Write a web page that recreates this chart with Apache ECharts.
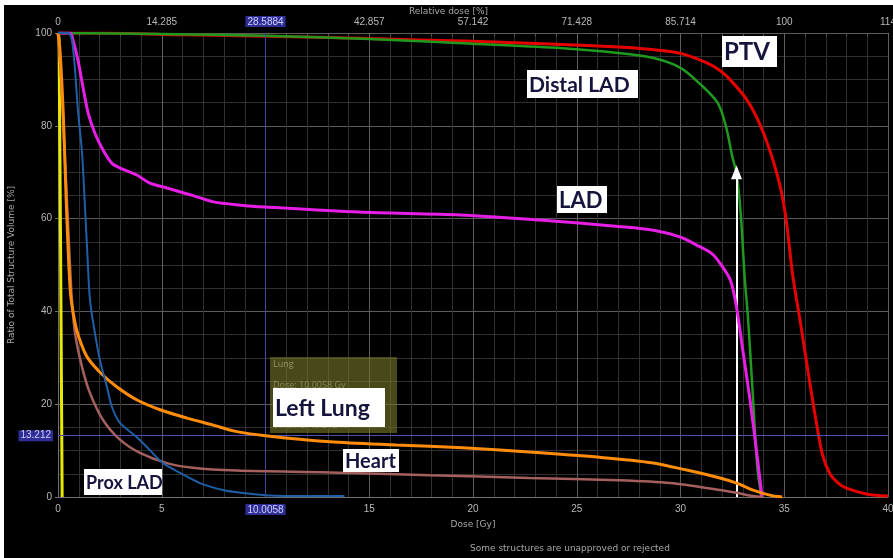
<!DOCTYPE html>
<html>
<head>
<meta charset="utf-8">
<script src="https://cdn.jsdelivr.net/npm/echarts@6/dist/echarts.min.js"></script>
<style>
  html, body { margin: 0; padding: 0; background: #ffffff; }
  #chart { position: absolute; left: 4px; top: 5px; width: 889px; height: 553px; background: #000; }
</style>
</head>
<body>
<div id="chart"></div>
<script>
// ---- Data (Dose [Gy], Volume [%]) ----
const ptv = [[0,100],[2,100],[5,99.7],[10,99.3],[15,98.8],[20,98.2],[24,97.6],[27,97],[28.5,96.5],[30,95.6],[31.3,93.5],[31.9,91.9],[32.4,89.9],[33.2,85.6],[33.8,80.6],[34.3,74.8],[34.8,67],[35.1,59.5],[35.4,48],[35.8,37],[36.2,25.5],[36.55,16],[36.85,9],[37.2,5],[37.6,3],[38,1.9],[39,0.6],[40,0.2]];
const distalLad = [[0,100],[5,99.8],[10,99.4],[15,98.7],[20,97.7],[24,96.8],[27,95.7],[28.7,94.6],[30,92.5],[30.9,89.2],[31.8,84.9],[32.2,79.7],[32.5,73.3],[32.7,69.8],[32.9,61.2],[33.1,46.8],[33.25,38.8],[33.5,20.9],[33.7,6.5],[33.9,0]];
const lad = [[0,100],[0.58,100],[0.72,98.5],[0.96,94.2],[1.2,88.4],[1.45,82.8],[1.78,78.4],[2.17,74.8],[2.6,71.9],[3,70.9],[3.8,69.4],[4.4,67.7],[5.25,66.6],[6.4,65.1],[7.5,63.6],[8.8,62.9],[10,62.5],[14.5,61.4],[19.4,60.8],[23.2,59.7],[27,58.3],[28.7,57.5],[30,56],[30.9,54],[31.5,52.5],[31.9,50.4],[32.4,46.8],[32.7,40.9],[33,31.7],[33.35,20.9],[33.7,8.6],[33.93,0]];
const proxLad = [[0,100],[0.48,100],[0.67,98.5],[0.82,92],[0.96,83.4],[1.16,74.1],[1.3,62.5],[1.42,52],[1.54,42.5],[1.78,35.3],[2.02,29.5],[2.36,23.7],[2.6,19.4],[3,15.9],[3.8,12.9],[4.43,10.1],[5.06,7.3],[5.88,5.2],[6.84,3],[7.95,1.5],[8.8,0.9],[10,0.4],[12,0.2],[13.8,0.2]];
const leftLung = [[0,100],[0.1,96],[0.25,83],[0.35,70],[0.43,59.7],[0.6,44],[0.8,38],[1.0,34.5],[1.4,30.2],[2.02,26.9],[2.84,23.7],[3.81,20.9],[4.92,18.8],[6.22,17],[7.47,15.5],[8.5,14.2],[10,13.2],[13.1,11.9],[16.3,11.2],[19.5,10.6],[22.7,9.7],[26,8.6],[28.6,7.4],[30.3,5.8],[31.9,4.1],[32.7,3],[33.5,1.5],[34.3,0.4],[34.9,0]];
const heart = [[0,100],[0.15,90],[0.3,76],[0.45,62],[0.58,50],[0.67,42.5],[0.82,35.3],[1.16,28],[1.54,22.4],[2.17,16.6],[3,12.3],[3.95,9.5],[5.25,7.3],[6.5,6.3],[8.6,5.7],[13.1,5.3],[17.9,4.7],[22.7,4.1],[27,3.6],[29.5,3],[31.9,1.5],[32.7,0.9],[33.5,0.2],[34,0]];
const yellowStruct = [[0,100],[0.05,99],[0.2,0]];

const topTickLabels = ['0','14.285','28.5884','42.857','57.142','71.428','85.714','100','114'];
const cursorDose = 10.0058;
const cursorVolume = 13.212;
const arrowDose = 32.7;
const arrowTop = 70;

// ---- Chart ----
const chart = echarts.init(document.getElementById('chart'));
const labelColor = '#b8b8b8';
const hlRich = { hl: { backgroundColor: '#2e2e96', color: '#d0d0ff', padding: [1, 2, 0, 2], fontSize: 10 } };

function line(name, data, color, width, z) {
  return { name, type: 'line', data, showSymbol: false, smooth: 0.3, z: z,
    lineStyle: { color, width }, itemStyle: { color }, silent: true, animation: false };
}

const annotations = [
  { text: 'PTV',       x: 718, y: 31,  w: 55,  h: 31, size: 24 },
  { text: 'Distal LAD',x: 523, y: 65,  w: 111, h: 28, size: 21 },
  { text: 'LAD',       x: 553, y: 181, w: 50,  h: 27, size: 22 },
  { text: 'Left Lung', x: 269, y: 383, w: 112, h: 39, size: 23 },
  { text: 'Heart',     x: 339, y: 444, w: 56,  h: 23, size: 20 },
  { text: 'Prox LAD',  x: 80,  y: 464, w: 78,  h: 26, size: 18 }
];

const graphics = [
  { type: 'text', left: 'center', top: 2, style: { text: 'Relative dose [%]', fill: '#a8a8a8', font: '9px "DejaVu Sans"' }, z: 60 },
  { type: 'rect', left: 266, top: 352, shape: { width: 127, height: 76 }, style: { fill: 'rgba(120,120,40,0.6)' }, z: 50 },
  { type: 'text', left: 269, top: 355, style: { text: 'Lung', fill: 'rgba(210,210,170,0.55)', font: '9px "Open Sans"' }, z: 51 },
  { type: 'text', left: 269, top: 376, style: { text: 'Dose: 10.0058 Gy', fill: 'rgba(210,210,170,0.45)', font: '9px "Open Sans"' }, z: 51 },
  { type: 'text', left: 269, top: 416, style: { text: 'Volume: 13.212 %', fill: 'rgba(210,210,170,0.45)', font: '9px "Open Sans"' }, z: 51 },
  { type: 'text', left: 466, top: 539, style: { text: 'Some structures are unapproved or rejected', fill: '#a8a8a8', font: '9px "DejaVu Sans"', textAlign: 'center' }, z: 60 }
];
annotations.forEach(a => {
  graphics.push({ type: 'rect', shape: { x: a.x, y: a.y, width: a.w, height: a.h }, style: { fill: '#ffffff' }, z: 100 });
  graphics.push({ type: 'text', x: a.x + 2, y: a.y + a.h / 2 + 1, style: { text: a.text, fill: '#14143c', font: 'bold ' + a.size + 'px Lato', textVerticalAlign: 'middle', textAlign: 'left' }, z: 101 });
});

const option = {
  backgroundColor: '#000',
  animation: false,
  grid: { left: 54, right: 5, top: 28, bottom: 61, containLabel: false, outerBoundsMode: 'none' },
  xAxis: [
    { type: 'value', min: 0, max: 40, interval: 5, position: 'bottom',
      name: 'Dose [Gy]', nameLocation: 'middle', nameGap: 19,
      nameTextStyle: { color: '#a8a8a8', fontSize: 9, fontFamily: 'DejaVu Sans' },
      axisLine: { show: true, lineStyle: { color: '#707070' } },
      axisTick: { show: false },
      axisLabel: { color: labelColor, fontSize: 10, margin: 7, showMaxLabel: true,
        formatter: v => Math.abs(v - 10) < 1e-6 ? '{hl|' + cursorDose + '}' : String(v), rich: hlRich },
      splitLine: { show: true, lineStyle: { color: '#5c5c5c', width: 1 } },
      minorTick: { show: false, splitNumber: 5 },
      minorSplitLine: { show: true, lineStyle: { color: '#303030', width: 1 } }
    },
    { type: 'value', min: 0, max: 40, interval: 5, position: 'top',
      axisLine: { show: false },
      axisTick: { show: true, inside: true, length: 5, lineStyle: { color: '#666' } },
      minorTick: { show: true, splitNumber: 5, length: 3, lineStyle: { color: '#555' } },
      axisLabel: { color: labelColor, fontSize: 10, margin: 6, showMaxLabel: true,
        formatter: v => { const i = Math.round(v / 5); const t = topTickLabels[i]; return i === 2 ? '{hl|' + t + '}' : t; }, rich: hlRich },
      splitLine: { show: false }
    }
  ],
  yAxis: {
    type: 'value', min: 0, max: 100, interval: 20,
    name: 'Ratio of Total Structure Volume [%]', nameLocation: 'middle', nameGap: 42,
    nameTextStyle: { color: '#a8a8a8', fontSize: 9, fontFamily: 'DejaVu Sans' },
    axisLine: { show: true, lineStyle: { color: '#707070' } },
    axisTick: { show: true, length: 3, lineStyle: { color: '#707070' } },
    axisLabel: { color: labelColor, fontSize: 10, margin: 6 },
    splitLine: { show: true, lineStyle: { color: '#5c5c5c', width: 1 } },
    minorSplitLine: { show: true, lineStyle: { color: '#303030', width: 1 } },
    minorTick: { show: false, splitNumber: 4 }
  },
  series: [
    { type: 'line', data: [], z: 1, silent: true,
      markLine: { silent: true, symbol: 'none', animation: false,
        data: [
          { xAxis: cursorDose, lineStyle: { color: '#4646a0', width: 1, type: 'solid' }, label: { show: false } },
          { yAxis: cursorVolume, lineStyle: { color: '#5050b4', width: 1, type: 'solid' },
            label: { show: true, position: 'start', distance: 5, formatter: String(cursorVolume), color: '#d0d0ff', fontSize: 10, backgroundColor: '#2e2e96', padding: [1, 2, 0, 2] } }
        ] } },
    line('Yellow', yellowStruct, '#e8e800', 3, 2),
    line('PTV', ptv, '#e60000', 3, 3),
    line('Distal LAD', distalLad, '#1f9a1f', 2.5, 4),
    line('LAD', lad, '#e61ee6', 3, 5),
    line('Heart', heart, '#a3605c', 2.5, 6),
    line('Left Lung', leftLung, '#ff8c0a', 3, 7),
    line('Prox LAD', proxLad, '#1f5fa8', 2, 8),
    { type: 'line', data: [], z: 20, silent: true,
      markLine: { silent: true, animation: false, symbol: ['none', 'triangle'], symbolSize: [11, 14],
        data: [[{ coord: [arrowDose, 0] }, { coord: [arrowDose, arrowTop] }]],
        lineStyle: { color: '#ffffff', width: 2, type: 'solid' }, label: { show: false } } }
  ],
  graphic: graphics
};
chart.setOption(option);
</script>
</body>
</html>
